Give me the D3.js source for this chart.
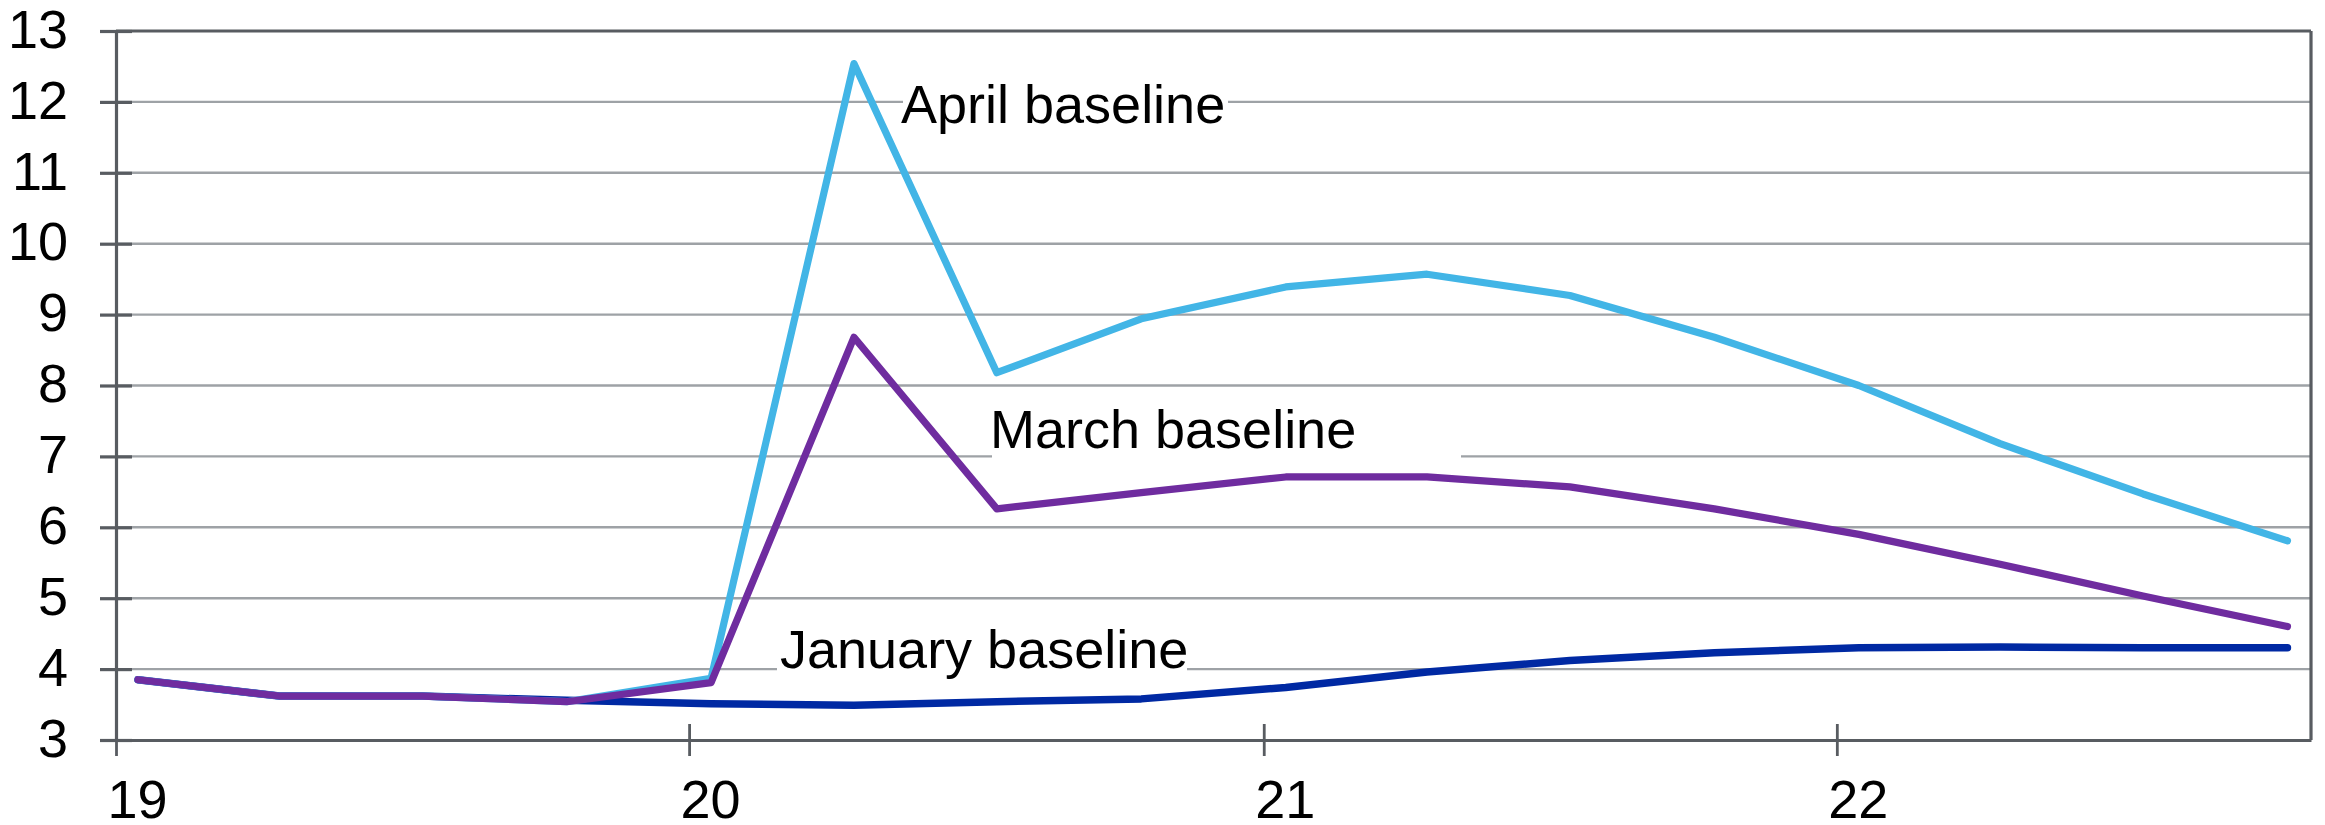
<!DOCTYPE html>
<html>
<head>
<meta charset="utf-8">
<script src="https://cdn.jsdelivr.net/npm/d3@7"></script>
<style>
  html, body { margin: 0; padding: 0; background: #fff; }
  svg { display: block; }
  text { font-family: "Liberation Sans", Arial, sans-serif; }
</style>
</head>
<body>
<svg id="chart" width="2325" height="825"></svg>
<script>
// ---- data ----
const quarters = ["2019Q1","2019Q2","2019Q3","2019Q4","2020Q1","2020Q2","2020Q3","2020Q4",
                  "2021Q1","2021Q2","2021Q3","2021Q4","2022Q1","2022Q2","2022Q3","2022Q4"];
const januaryBaseline = [3.85,3.62,3.62,3.56,3.51,3.49,3.54,3.58,3.74,3.96,4.12,4.23,4.30,4.31,4.30,4.30];
const marchBaseline   = [3.85,3.62,3.62,3.54,3.81,8.68,6.26,6.49,6.71,6.71,6.57,6.26,5.90,5.48,5.03,4.60];
const aprilBaseline   = [3.85,3.62,3.62,3.54,3.87,12.54,8.18,8.94,9.39,9.57,9.27,8.68,8.00,7.18,6.47,5.81];
const yTicks = [3,4,5,6,7,8,9,10,11,12,13];
const xTickYears = [2019,2020,2021,2022];
const xTickLabels = ["19","20","21","22"];

// ---- layout ----
const W = 2325, H = 825;
const margin = {left: 116, top: 31, right: 14, bottom: 85};
const svg = d3.select("#chart");

const qDate = q => new Date(+q.slice(0,4), (+q.slice(5) - 1) * 3, 15);
const x = d3.scaleTime()
  .domain([new Date(2019,0,1), new Date(2022,9,30)])
  .range([margin.left, W - margin.right]);
const y = d3.scaleLinear().domain([3,13]).range([H - margin.bottom, margin.top]);

const gridColor = "#9ea2a6", axisColor = "#585c61";

// gridlines
svg.append("g").selectAll("line").data(yTicks.filter(v => v > 3 && v < 13)).join("line")
  .attr("x1", margin.left).attr("x2", W - margin.right)
  .attr("y1", d => y(d)).attr("y2", d => y(d))
  .attr("stroke", gridColor).attr("stroke-width", 2.4);

// label boxes (white background behind annotations)
const labels = [
  {text: "April baseline",   x: 901, y: 123, box: [903, 80, 325, 55]},
  {text: "March baseline",   x: 990, y: 448, box: [992, 405, 469, 55]},
  {text: "January baseline", x: 780, y: 668, box: [777, 625, 410, 52]}
];
svg.append("g").selectAll("rect").data(labels).join("rect")
  .attr("x", d => d.box[0]).attr("y", d => d.box[1])
  .attr("width", d => d.box[2]).attr("height", d => d.box[3])
  .attr("fill", "#fff");

// frame
const frame = svg.append("g").attr("stroke", axisColor).attr("stroke-width", 3.2).attr("fill", "none");
frame.append("line").attr("x1", margin.left).attr("x2", W - margin.right).attr("y1", y(13)).attr("y2", y(13));
frame.append("line").attr("x1", W - margin.right).attr("x2", W - margin.right).attr("y1", y(13)).attr("y2", y(3));

// y axis
const yAxis = d3.axisLeft(y).tickValues(yTicks).tickSize(0).tickPadding(48).tickFormat(d3.format("d"));
const gy = svg.append("g").attr("transform", `translate(${margin.left},0)`).call(yAxis);
gy.select(".domain").attr("stroke", axisColor).attr("stroke-width", 3.2);
gy.selectAll(".tick text").attr("font-size", 54).attr("fill", "#000").attr("dy", "0.3em");
gy.selectAll(".tick").append("line").attr("x1", -16).attr("x2", 16)
  .attr("stroke", axisColor).attr("stroke-width", 3.2);

// x axis
const xAxis = d3.axisBottom(x).tickValues(xTickYears.map(yr => new Date(yr,0,1)))
  .tickSize(0).tickFormat((d,i) => xTickLabels[i]);
const gx = svg.append("g").attr("transform", `translate(0,${y(3)})`).call(xAxis);
gx.select(".domain").attr("stroke", axisColor).attr("stroke-width", 3.2);
gx.selectAll(".tick").append("line").attr("y1", -16).attr("y2", 16)
  .attr("stroke", axisColor).attr("stroke-width", 2.8);
gx.selectAll(".tick text").attr("font-size", 54).attr("fill", "#000")
  .attr("text-anchor", "start").attr("x", -9).attr("y", 78).attr("dy", 0);

// lines
const line = d3.line().x((d,i) => x(qDate(quarters[i]))).y(d => y(d));
const series = [
  {values: januaryBaseline, color: "#0029a3", width: 7.5},
  {values: aprilBaseline,   color: "#42b5e6", width: 7.2},
  {values: marchBaseline,   color: "#6f2c9f", width: 7.2}
];
svg.append("g").selectAll("path").data(series).join("path")
  .attr("d", d => line(d.values))
  .attr("fill", "none").attr("stroke", d => d.color).attr("stroke-width", d => d.width)
  .attr("stroke-linejoin", "round").attr("stroke-linecap", "round");

// annotation text
svg.append("g").selectAll("text").data(labels).join("text")
  .attr("x", d => d.x).attr("y", d => d.y).attr("font-size", 54).attr("fill", "#000")
  .text(d => d.text);
</script>
</body>
</html>
